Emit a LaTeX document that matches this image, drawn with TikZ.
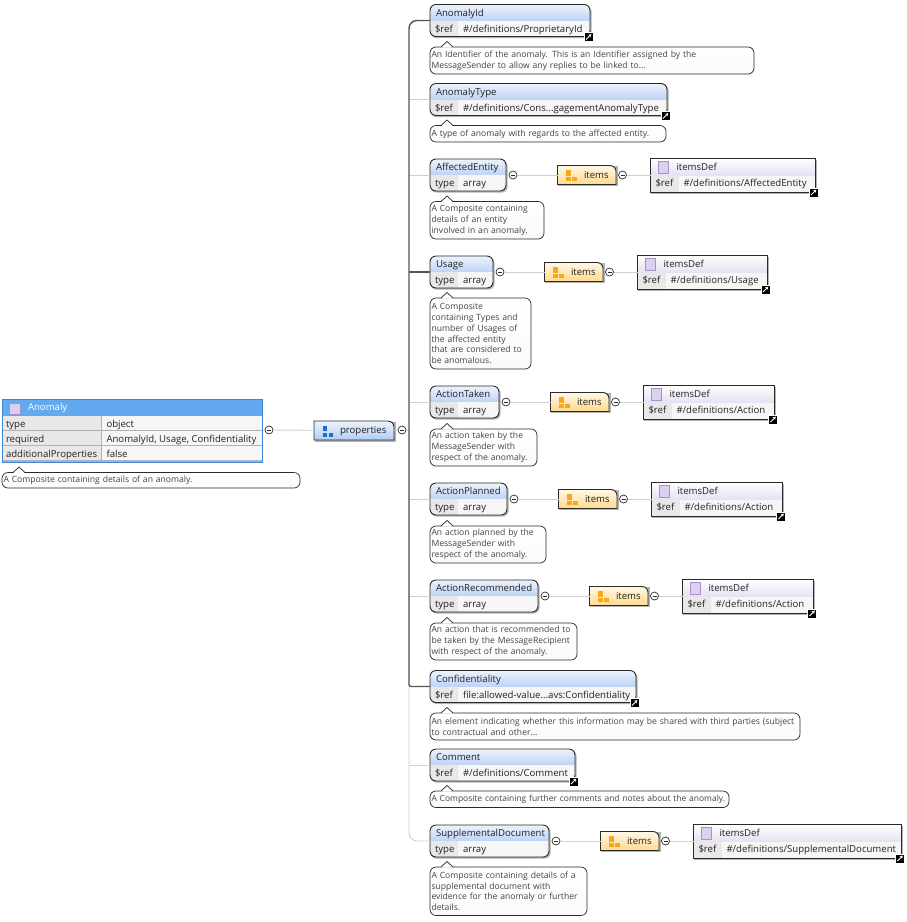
\documentclass[tikz,border=0pt]{standalone}
\usepackage{fontspec}
\setmainfont{Open Sans}
\usetikzlibrary{arrows.meta}
\definecolor{hdtop}{HTML}{EDF3FD}
\definecolor{hdbot}{HTML}{BDD3F6}
\definecolor{rowlt}{HTML}{F6F6F6}
\definecolor{rowdk}{HTML}{E8E8E8}
\definecolor{frame}{HTML}{2A2A2A}
\definecolor{wire}{HTML}{CFCFCF}
\definecolor{wiredk}{HTML}{555555}
\definecolor{ink}{HTML}{222222}
\definecolor{noteink}{HTML}{444444}
\definecolor{notebot}{HTML}{FAFAFA}
\definecolor{itemtop}{HTML}{FFF8E6}
\definecolor{itembot}{HTML}{FFD98E}
\definecolor{proptop}{HTML}{EDF3FD}
\definecolor{propbot}{HTML}{B2CCF3}
\definecolor{deftop}{HTML}{FFFFFF}
\definecolor{defbot}{HTML}{E6DFF2}
\definecolor{swatch}{HTML}{DCD0EE}
\definecolor{swatchline}{HTML}{A592CC}
\definecolor{rootblue}{HTML}{62A9EF}
\definecolor{rootline}{HTML}{3C88D6}
\definecolor{bluebit}{HTML}{1F6FC8}
\definecolor{orangebit}{HTML}{F5A81C}
\tikzset{
  txt/.style={inner sep=0pt,outer sep=0pt,font=\fontsize{9.6}{10.8}\selectfont,text=ink,anchor=west,text height=7pt,text depth=2pt},
  elemframe/.style={draw=frame,line width=0.9pt,rounded corners=6pt,inner sep=0pt,outer sep=0pt},
  plainframe/.style={draw=none,inner sep=0pt,outer sep=0pt},
  drop/.style={fill=black,fill opacity=0.3},
  note/.style={draw=frame,line width=0.7pt,rounded corners=6pt,top color=white,bottom color=notebot,
    inner xsep=1.5pt,inner ysep=0pt,outer sep=0pt,anchor=north west,align=left,
    font=\fontsize{8.6}{10.8}\selectfont,text=noteink},
  toggle/.style={circle,draw=frame,fill=white,line width=0.7pt,minimum size=8pt,inner sep=0pt,outer sep=0pt},
  linkbadge/.style={rectangle,fill=black,draw=white,line width=0.3pt,minimum size=9pt,inner sep=0pt,outer sep=0pt},
  softwire/.style={draw=wire,line width=0.9pt},
  hardwire/.style={draw=wiredk,line width=1.4pt},
}
% collapse button with its minus bar
\newcommand{\Toggle}[3]{%
  \node[toggle] (#1) at (#2,#3) {};
  \draw[frame,line width=0.7pt] ([xshift=-2pt]#1.center) -- ([xshift=2pt]#1.center);
}
% reference badge: black square with a white arrow
\newcommand{\LinkBadge}[3]{%
  \node[linkbadge] (#1) at (#2,#3) {};
  \draw[white,line width=0.9pt,-{Stealth[length=3pt,width=3.5pt]}] ([shift={(-2.6pt,-2.6pt)}]#1.center) -- ([shift={(2.8pt,2.8pt)}]#1.center);
}
% property element: id, left, right, centre y, key, value, title, badge flag
\newcommand{\ElemBox}[8]{%
  \pgfmathsetmacro\myW{#3-#2}%
  \pgfmathsetmacro\myT{#4-16}%
  \pgfmathsetmacro\myB{#4+16}%
  \pgfmathsetmacro\myX{(#2+#3)/2}%
  \pgfmathsetmacro\myC{#2+27.5}%
  \fill[drop,rounded corners=6pt] (#2+0.6,\myT+1.4) rectangle (#3+1.6,\myB+1.6);
  \begin{scope}
    \clip[rounded corners=6pt] (#2,\myT) rectangle (#3,\myB);
    \shade[top color=hdtop,bottom color=hdbot] (#2,\myT) rectangle (#3,#4);
    \fill[rowdk] (#2,#4) rectangle (\myC,\myB);
    \fill[rowlt] (\myC,#4) rectangle (#3,\myB);
  \end{scope}
  \node[elemframe,minimum width=\myW pt,minimum height=32pt] (#1) at (\myX,#4) {};
  \node[txt] (#1-title) at (#2+6,#4-7) {#7};
  \node[txt] (#1-key) at (#2+5,#4+9) {#5};
  \node[txt] (#1-val) at (#2+33,#4+9) {#6};
  \ifnum#8=1
    \LinkBadge{#1-link}{#3-1.5}{\myB+0.4}
  \fi
}
% callout with its small tip: id, left, right, top, bottom, text
\newcommand{\NoteBox}[6]{%
  \pgfmathsetmacro\myH{#5-#4}%
  \pgfmathsetmacro\myTW{#3-#2-3}%
  \node[note,text width=\myTW pt,minimum height=\myH pt] (#1) at (#2,#4) {#6};
  \fill[white] (#2+11,#4+0.6) -- (#2+17,#4-5.5) -- (#2+23,#4+0.6) -- cycle;
  \draw[frame,line width=0.7pt] (#2+11,#4) -- (#2+17,#4-5.5) -- (#2+23,#4);
}
% items wedge or properties tab: id, left, right, centre y, label, label offset, top colour, bottom colour, icon colour
\newcommand{\TabBox}[9]{%
  \pgfmathsetmacro\myW{#3-#2}%
  \pgfmathsetmacro\myX{(#2+#3)/2}%
  \fill[drop] (#2+0.6,#4-9) rectangle (#3+1.6,#4+11);
  \shade[top color=#7,bottom color=#8,draw=frame,line width=0.9pt]
    (#2,#4-9.5) -- (#3-6,#4-9.5) arc[start angle=90,end angle=0,radius=6pt] -- (#3,#4+9.5) -- (#2,#4+9.5) -- cycle;
  \node[plainframe,minimum width=\myW pt,minimum height=19pt] (#1) at (\myX,#4) {};
  \fill[#9] (#2+8.5,#4-5) rectangle (#2+13,#4+0.5);
  \fill[#9] (#2+8.5,#4+2) rectangle (#2+13,#4+6);
  \fill[#9] (#2+14.7,#4+2) rectangle (#2+19,#4+6);
  \node[txt] (#1-label) at (#2+#6,#4+0.5) {#5};
}
% referenced definition: id, left, right, centre y, value
\newcommand{\DefBox}[5]{%
  \pgfmathsetmacro\myW{#3-#2}%
  \pgfmathsetmacro\myX{(#2+#3)/2}%
  \pgfmathsetmacro\myC{#2+28}%
  \fill[drop] (#2+0.6,#4-15.5) rectangle (#3+1.6,#4+18.6);
  \shade[top color=deftop,bottom color=defbot] (#2,#4-17) rectangle (#3,#4+1);
  \fill[rowdk] (#2,#4+1) rectangle (\myC,#4+17);
  \fill[rowlt] (\myC,#4+1) rectangle (#3,#4+17);
  \node[draw=frame,line width=0.9pt,inner sep=0pt,outer sep=0pt,minimum width=\myW pt,minimum height=34pt] (#1) at (\myX,#4) {};
  \fill[swatch,draw=swatchline,line width=0.7pt] (#2+7.5,#4-13.3) rectangle (#2+18,#4-2);
  \node[txt] (#1-title) at (#2+26,#4-7.5) {itemsDef};
  \node[txt] (#1-key) at (#2+5,#4+9.2) {\$ref};
  \node[txt] (#1-val) at (#2+33,#4+9.2) {#5};
  \LinkBadge{#1-link}{#3-1.5}{#4+17.4}
}
% one array property: element, collapse button, items tab, collapse button, definition and wires
% id, left, right, centre y, title, definition value, definition width
\newcommand{\ArrayRow}[7]{%
  \pgfmathsetmacro\rowA{#3+7}%
  \pgfmathsetmacro\rowB{#3+51.5}%
  \pgfmathsetmacro\rowC{#3+110}%
  \pgfmathsetmacro\rowD{#3+116.5}%
  \pgfmathsetmacro\rowE{#3+144.5}%
  \pgfmathsetmacro\rowF{#3+144.5+#7}%
  \ElemBox{#1}{#2}{#3}{#4}{type}{array}{#5}{0}
  \Toggle{#1-a}{\rowA}{#4}
  \TabBox{#1-items}{\rowB}{\rowC}{#4}{items}{26.5}{itemtop}{itembot}{orangebit}
  \Toggle{#1-b}{\rowD}{#4}
  \DefBox{#1-def}{\rowE}{\rowF}{#4}{#6}
  \draw[softwire] (#1-a) -- (#1-items);
  \draw[softwire] (#1-b) -- (#1-def);
}
\begin{document}
\begin{tikzpicture}[x=1pt,y=-1pt]
\useasboundingbox[fill=white] (0,0) rectangle (906,922);

% root object table
\fill[drop] (2.6,400) rectangle (263.4,463.2);
\fill[rootblue] (2,399) rectangle (262,416);
\foreach \rowtop in {416,431,446}{
  \fill[rowdk] (2,\rowtop) rectangle (101,\rowtop+14);
  \fill[rowlt] (102,\rowtop) rectangle (262,\rowtop+14);
}
\node[draw=rootline,line width=1pt,inner sep=0pt,outer sep=0pt,minimum width=260pt,minimum height=63pt] (root) at (132,430.5) {};
\fill[swatch,draw=swatchline,line width=0.7pt] (9.5,403) rectangle (20.5,414);
\node[txt,text=white] (root-title) at (28,408.2) {Anomaly};
\node[txt] (root-k1) at (6,424.8) {type};
\node[txt] (root-v1) at (106.5,424.8) {object};
\node[txt] (root-k2) at (6,439.8) {required};
\node[txt] (root-v2) at (106.5,439.8) {AnomalyId, Usage, Confidentiality};
\node[txt] (root-k3) at (6,454.8) {additionalProperties};
\node[txt] (root-v3) at (106.5,454.8) {false};
\NoteBox{root-note}{2}{300}{472.5}{488}{A Composite containing details of an anomaly.}

% properties tab and the trunk that feeds every element
\Toggle{root-t}{269}{430}
\TabBox{props}{314}{394}{430.5}{properties}{26}{proptop}{propbot}{bluebit}
\Toggle{props-t}{402}{430}
\coordinate (trunk) at (409,430);
\draw[softwire] (root-t) -- (props);

% elements and callouts
\ElemBox{anomalyid}{430}{590}{20.5}{\$ref}{\#/definitions/ProprietaryId}{AnomalyId}{1}
\NoteBox{anomalyid-note}{430}{754}{47}{74}{An Identifier of the anomaly. This is an Identifier assigned by the\\MessageSender to allow any replies to be linked to...}

\ElemBox{anomalytype}{430}{667}{99.5}{\$ref}{\#/definitions/Cons...gagementAnomalyType}{AnomalyType}{1}
\NoteBox{anomalytype-note}{430}{666}{125.5}{142}{A type of anomaly with regards to the affected entity.}

\ArrayRow{affected}{430}{506}{175}{AffectedEntity}{\#/definitions/AffectedEntity}{164.5}
\NoteBox{affected-note}{430}{544}{201.5}{239}{A Composite containing\\details of an entity\\involved in an anomaly.}

\ArrayRow{usage}{430}{493}{272}{Usage}{\#/definitions/Usage}{129.5}
\NoteBox{usage-note}{430}{531}{298}{369}{A Composite\\containing Types and\\number of Usages of\\the affected entity\\that are considered to\\be anomalous.}

\ArrayRow{taken}{430}{499}{402}{ActionTaken}{\#/definitions/Action}{131}
\NoteBox{taken-note}{430}{537}{429}{466}{An action taken by the\\MessageSender with\\respect of the anomaly.}

\ArrayRow{planned}{430}{507}{499}{ActionPlanned}{\#/definitions/Action}{131}
\NoteBox{planned-note}{430}{546}{526}{563}{An action planned by the\\MessageSender with\\respect of the anomaly.}

\ArrayRow{recommended}{430}{538}{596}{ActionRecommended}{\#/definitions/Action}{131}
\NoteBox{recommended-note}{430}{577}{623}{660}{An action that is recommended to\\be taken by the MessageRecipient\\with respect of the anomaly.}

\ElemBox{confidentiality}{430}{636}{686.5}{\$ref}{file:allowed-value...avs:Confidentiality}{Confidentiality}{1}
\NoteBox{confidentiality-note}{430}{800}{713}{740}{An element indicating whether this information may be shared with third parties (subject\\to contractual and other...}

\ElemBox{comment}{430}{575}{765}{\$ref}{\#/definitions/Comment}{Comment}{1}
\NoteBox{comment-note}{430}{729}{791}{807.5}{\mbox{\fontsize{8.45}{10.8}\selectfont A Composite containing further comments and notes about the anomaly.}}

\ArrayRow{supplemental}{430}{549}{841}{SupplementalDocument}{\#/definitions/SupplementalDocument}{208}
\NoteBox{supplemental-note}{430}{587}{867}{915.5}{A Composite containing details of a\\supplemental document with\\evidence for the anomaly or further\\details.}

% optional members in light wire, required members in dark wire
\draw[softwire] (props) -- (props-t);
\draw[softwire] (props-t) -- (trunk);
\draw[softwire,rounded corners=8pt] (trunk) |- (supplemental.west);
\foreach \target in {anomalytype,affected,taken,planned,recommended,comment}{
  \draw[softwire] (trunk |- \target.west) -- (\target.west);
}
\draw[hardwire,rounded corners=8pt] (anomalyid.west) -| (trunk);
\draw[hardwire,rounded corners=2pt] (trunk) |- (confidentiality.west);
\draw[hardwire] (trunk |- usage.west) -- (usage.west);
\end{tikzpicture}
\end{document}
